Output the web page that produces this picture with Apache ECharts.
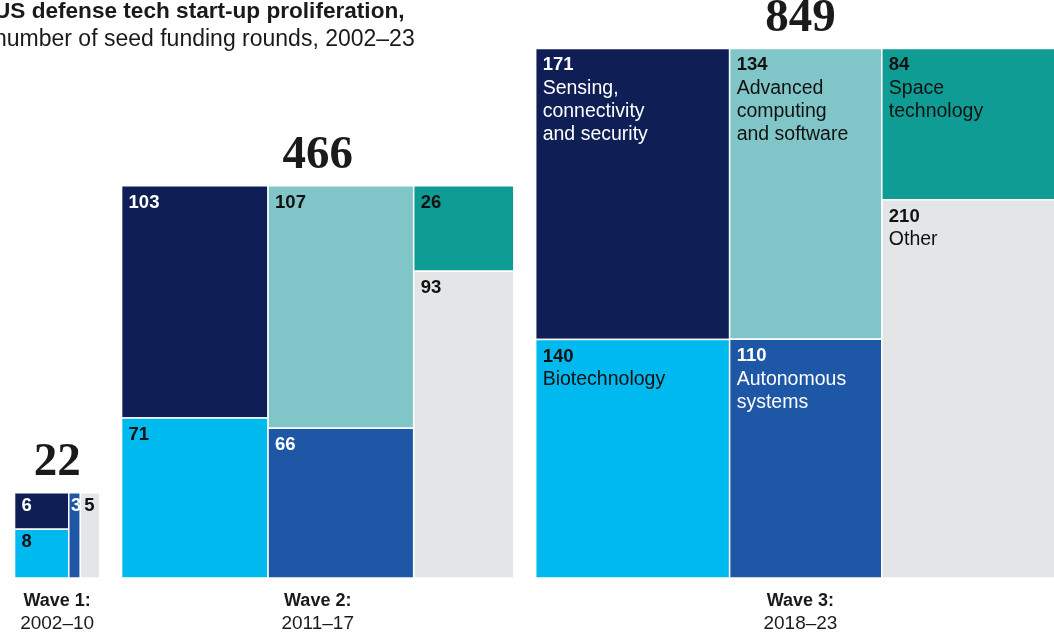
<!DOCTYPE html>
<html>
<head>
<meta charset="utf-8">
<script src="https://cdn.jsdelivr.net/npm/echarts@6/dist/echarts.min.js"></script>
<style>
  html, body { margin: 0; padding: 0; background: #fff; }
  #chart { width: 1054px; height: 636px; }
</style>
</head>
<body>
<div id="chart"></div>
<script>
// Seed funding rounds by wave; cells come in column pairs (top, bottom)
const waves = ['Wave 1:', 'Wave 2:', 'Wave 3:'];
const periods = ['2002–10', '2011–17', '2018–23'];
const categories = [
  'Sensing,\nconnectivity\nand security',
  'Biotechnology',
  'Advanced\ncomputing\nand software',
  'Autonomous\nsystems',
  'Space\ntechnology',
  'Other'
];
const wave1 = [6, 8, 0, 3, 0, 5];
const wave2 = [103, 71, 107, 66, 26, 93];
const wave3 = [171, 140, 134, 110, 84, 210];

const colors = ['#0f1f55', '#00b9ef', '#80c6c9', '#1f57a7', '#0e9c95', '#e4e5e7'];
const textColors = ['#ffffff', '#111111', '#111111', '#ffffff', '#111111', '#111111'];
const SANS = '"Liberation Sans", Arial, sans-serif';
const SERIF = '"Liberation Serif", "DejaVu Serif", serif';

// Each wave is a square whose side is sqrt(total), laid out left to right
const waveValues = [wave1, wave2, wave3];
const GAP = 1.2;
const cells = [];
const blocks = [];
let cursor = 0;
waveValues.forEach((vals, w) => {
  const total = vals.reduce((a, b) => a + b, 0);
  const side = Math.sqrt(total);
  blocks.push([cursor + side / 2, side, total, w]);
  let cx = cursor;
  for (let c = 0; c < vals.length; c += 2) {
    const colTotal = vals[c] + vals[c + 1];
    const colW = side * colTotal / total;
    let yTop = side;
    for (let k = 0; k < 2; k++) {
      const v = vals[c + k];
      const h = colTotal ? side * v / colTotal : 0;
      if (v > 0) {
        cells.push([cx, yTop - h, cx + colW, yTop, v, c + k, w, side]);
      }
      yTop -= h;
    }
    cx += colW;
  }
  cursor += side + GAP;
});

function renderCell(params, api) {
  const x0 = api.value(0), y0 = api.value(1), x1 = api.value(2), y1 = api.value(3);
  const v = api.value(4), cat = api.value(5), w = api.value(6), side = api.value(7);
  const tl = api.coord([x0, y1]);
  const br = api.coord([x1, y0]);
  const width = br[0] - tl[0], height = br[1] - tl[1];
  const sidePx = api.size([side, 0])[0];
  const small = sidePx < 150;
  const pad = Math.min(7, width * 0.2);
  const valY = tl[1] + (small ? 13 : 17);
  const children = [{
    type: 'rect',
    shape: { x: tl[0], y: tl[1], width: width, height: height },
    style: { fill: colors[cat], stroke: '#ffffff', lineWidth: 1.5 }
  }, {
    type: 'text',
    style: {
      x: tl[0] + pad, y: valY, text: String(v),
      fill: textColors[cat], font: 'bold 18.5px ' + SANS,
      align: 'left', verticalAlign: 'middle'
    }
  }];
  if (w === waves.length - 1) {
    children.push({
      type: 'text',
      style: {
        x: tl[0] + pad, y: valY + 11.5, text: categories[cat],
        fill: textColors[cat], font: '19.5px ' + SANS, lineHeight: 23,
        align: 'left', verticalAlign: 'top'
      }
    });
  }
  return { type: 'group', children: children };
}

function renderBlock(params, api) {
  const cx = api.value(0), side = api.value(1), total = api.value(2), w = api.value(3);
  const top = api.coord([cx, side]);
  const bottom = api.coord([cx, 0]);
  return {
    type: 'group',
    children: [{
      type: 'text',
      style: {
        x: top[0], y: top[1] - 30, text: String(total),
        fill: '#1a1a1a', font: 'bold 47px ' + SERIF,
        align: 'center', verticalAlign: 'middle'
      }
    }, {
      type: 'text',
      style: {
        x: bottom[0], y: bottom[1] + 23, text: waves[w],
        fill: '#1a1a1a', font: 'bold 18px ' + SANS,
        align: 'center', verticalAlign: 'middle'
      }
    }, {
      type: 'text',
      style: {
        x: bottom[0], y: bottom[1] + 45.5, text: periods[w],
        fill: '#1a1a1a', font: '19px ' + SANS,
        align: 'center', verticalAlign: 'middle'
      }
    }]
  };
}

const chart = echarts.init(document.getElementById('chart'), null, { renderer: 'canvas' });
chart.setOption({
  animation: false,
  backgroundColor: '#ffffff',
  title: {
    text: 'US defense tech start-up proliferation,',
    subtext: 'number of seed funding rounds, 2002–23',
    left: -6, top: 1, padding: 0, itemGap: 5,
    textStyle: { fontFamily: SANS, fontWeight: 'bold', fontSize: 22.6, color: '#1a1a1a', lineHeight: 22 },
    subtextStyle: { fontFamily: SANS, fontSize: 23, color: '#1a1a1a', lineHeight: 22 }
  },
  grid: { left: 0, right: 0, top: 0, bottom: 58 },
  xAxis: { type: 'value', min: -0.8, max: 57.2, show: false },
  yAxis: { type: 'value', min: 0, max: 31.8, show: false },
  series: [{
    type: 'custom',
    renderItem: renderCell,
    data: cells,
    encode: { x: [0, 2], y: [1, 3] },
    clip: false
  }, {
    type: 'custom',
    renderItem: renderBlock,
    data: blocks,
    encode: { x: 0, y: 1 },
    clip: false
  }]
});
</script>
</body>
</html>
